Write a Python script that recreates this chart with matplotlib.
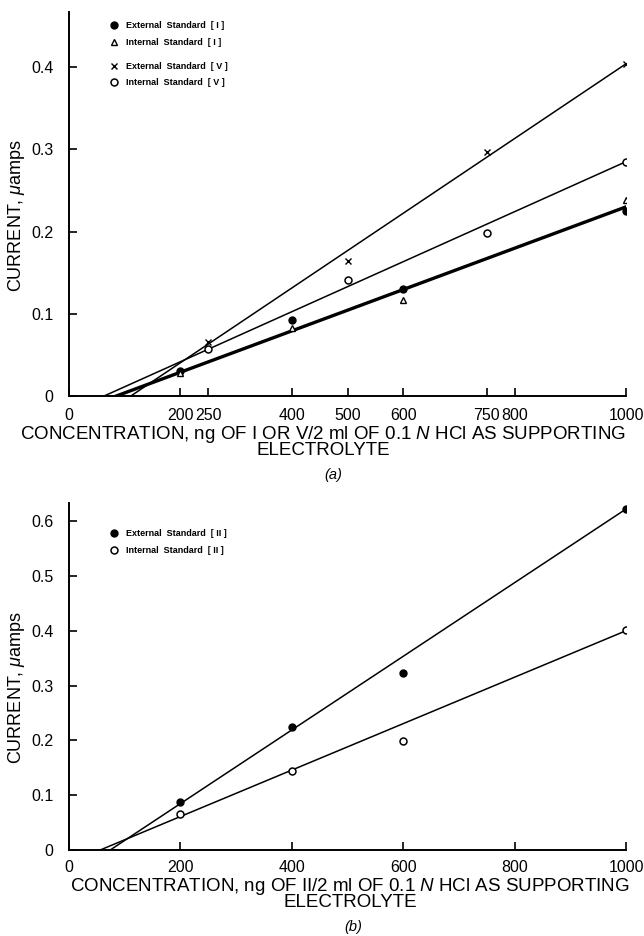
import matplotlib
matplotlib.use("Agg")
import matplotlib.pyplot as plt

plt.rcParams["font.family"] = ["Liberation Sans", "DejaVu Sans"]
plt.rcParams["mathtext.fontset"] = "custom"
plt.rcParams["mathtext.rm"] = "Liberation Sans"
plt.rcParams["mathtext.it"] = "Liberation Sans:italic"
plt.rcParams["mathtext.bf"] = "Liberation Sans:bold"

# ---------------- data: panel (a) ----------------
ext_I_x = [200, 400, 600, 1000]
ext_I_y = [0.031, 0.093, 0.130, 0.225]
int_I_x = [200, 400, 600, 1000]
int_I_y = [0.028, 0.083, 0.117, 0.238]
ext_V_x = [250, 500, 750, 1000]
ext_V_y = [0.066, 0.164, 0.297, 0.404]
int_V_x = [250, 500, 750, 1000]
int_V_y = [0.057, 0.141, 0.198, 0.285]
# fitted calibration lines (start on x axis, end at 1000)
fit_I_x = [85, 1000]
fit_I_y = [0.0, 0.230]
fit_extV_x = [111, 1000]
fit_extV_y = [0.0, 0.404]
fit_intV_x = [63, 1000]
fit_intV_y = [0.0, 0.285]
xticks_a = [0, 200, 250, 400, 500, 600, 750, 800, 1000]
yticks_a = [0, 0.1, 0.2, 0.3, 0.4]
ytick_labels_a = ["0", "0.1", "0.2", "0.3", "0.4"]

# ---------------- data: panel (b) ----------------
ext_II_x = [200, 400, 600, 1000]
ext_II_y = [0.087, 0.224, 0.323, 0.622]
int_II_x = [200, 400, 600, 1000]
int_II_y = [0.066, 0.145, 0.198, 0.402]
fit_extII_x = [74, 1000]
fit_extII_y = [0.0, 0.622]
fit_intII_x = [56, 1000]
fit_intII_y = [0.0, 0.400]
xticks_b = [0, 200, 400, 600, 800, 1000]
yticks_b = [0, 0.1, 0.2, 0.3, 0.4, 0.5, 0.6]
ytick_labels_b = ["0", "0.1", "0.2", "0.3", "0.4", "0.5", "0.6"]

W, H = 644, 936
fig = plt.figure(figsize=(W / 100, H / 100), dpi=100)

def style_axes(ax, xticks, yticks, ylabels, ytop):
    ax.set_xlim(0, 1000)
    ax.set_ylim(0, ytop)
    for s in ("top", "right"):
        ax.spines[s].set_visible(False)
    for s in ("left", "bottom"):
        ax.spines[s].set_linewidth(1.4)
    ax.set_xticks(xticks)
    ax.set_xticklabels([str(v) for v in xticks])
    ax.set_yticks(yticks)
    ax.set_yticklabels(ylabels)
    ax.tick_params(direction="in", length=6, width=1.2, labelsize=11.5)
    ax.tick_params(axis="x", pad=9)
    ax.tick_params(axis="y", pad=11)
    ax.set_ylabel("CURRENT, $\\mathit{\\mu}$amps", fontsize=13)
    ax.yaxis.set_label_coords(-0.076, 0.47)

leg_kw = dict(frameon=False, handlelength=0.6, handletextpad=1.0,
              labelspacing=0.85, borderaxespad=0.0,
              prop=dict(weight="bold", size=6.5))

def ylab(y):
    return 1 - y / H

# ---------------- panel (a) ----------------
ax1 = fig.add_axes([69 / W, 1 - 396 / H, (626 - 69) / W, (396 - 12) / H])
ax1.plot(fit_I_x, fit_I_y, color="black", lw=2.4)
ax1.plot(fit_extV_x, fit_extV_y, color="black", lw=1.1)
ax1.plot(fit_intV_x, fit_intV_y, color="black", lw=1.1)
h1, = ax1.plot(ext_I_x, ext_I_y, "o", color="black", ms=5, ls="none")
h2, = ax1.plot(int_I_x, int_I_y, "^", mfc="white", mec="black", mew=1.0, ms=4.5, ls="none")
h3, = ax1.plot(ext_V_x, ext_V_y, "x", color="black", ms=4, mew=1.0, ls="none")
h4, = ax1.plot(int_V_x, int_V_y, "o", mfc="white", mec="black", mew=1.1, ms=5, ls="none")
style_axes(ax1, xticks_a, yticks_a, ytick_labels_a, 0.467)
lg1 = ax1.legend([h1, h2], ["External  Standard  [ I ]", "Internal  Standard  [ I ]"],
                 loc="upper left", bbox_to_anchor=(0.07, 0.985), **leg_kw)
ax1.add_artist(lg1)
ax1.legend([h3, h4], ["External  Standard  [ V ]", "Internal  Standard  [ V ]"],
           loc="upper left", bbox_to_anchor=(0.07, 0.88), **leg_kw)

fig.text(323 / W, ylab(424),
         "CONCENTRATION, ng OF I OR V/2 ml OF 0.1 $\\mathit{N}$ HCl AS SUPPORTING\nELECTROLYTE",
         ha="center", va="top", multialignment="center", fontsize=13.5, linespacing=0.78)
fig.text(333 / W, ylab(475), "(a)", ha="center", va="center", fontsize=10.5, style="italic")

# ---------------- panel (b) ----------------
ax2 = fig.add_axes([69 / W, 1 - 850 / H, (626 - 69) / W, (850 - 503) / H])
ax2.plot(fit_extII_x, fit_extII_y, color="black", lw=1.1)
ax2.plot(fit_intII_x, fit_intII_y, color="black", lw=1.1)
g1, = ax2.plot(ext_II_x, ext_II_y, "o", color="black", ms=5, ls="none")
g2, = ax2.plot(int_II_x, int_II_y, "o", mfc="white", mec="black", mew=1.1, ms=5, ls="none")
style_axes(ax2, xticks_b, yticks_b, ytick_labels_b, 0.633)
ax2.tick_params(axis="x", pad=7)
ax2.legend([g1, g2], ["External  Standard  [ II ]", "Internal  Standard  [ II ]"],
           loc="upper left", bbox_to_anchor=(0.07, 0.935), **leg_kw)

fig.text(350 / W, ylab(876),
         "CONCENTRATION, ng OF II/2 ml OF 0.1 $\\mathit{N}$ HCl AS SUPPORTING\nELECTROLYTE",
         ha="center", va="top", multialignment="center", fontsize=13.5, linespacing=0.78)
fig.text(353 / W, ylab(927), "(b)", ha="center", va="center", fontsize=10.5, style="italic")

fig.savefig("out.png", dpi=100)
